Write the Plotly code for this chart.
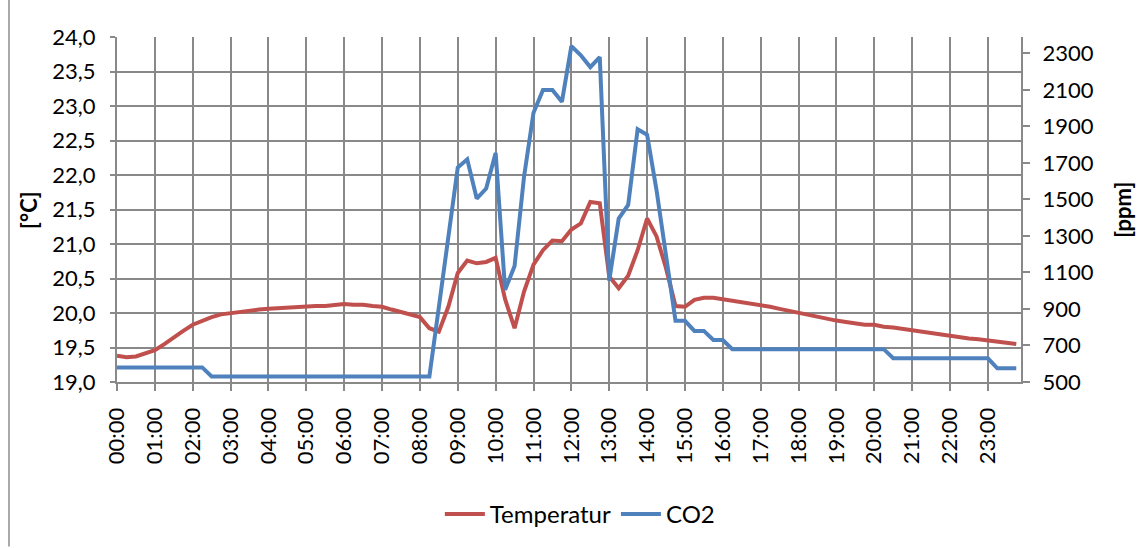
import plotly.graph_objects as go

# 15-minute time slots over one day
slots = list(range(96))
hour_labels = [f"{h:02d}:00" for h in range(24)]
hour_ticks = [h * 4 for h in range(24)]

temperatur = [
    19.38, 19.36, 19.37, 19.41, 19.46, 19.55, 19.65, 19.74, 19.83, 19.89,
    19.94, 19.98, 20.00, 20.02, 20.04, 20.05, 20.06, 20.07, 20.08, 20.09,
    20.10, 20.10, 20.10, 20.12, 20.13, 20.12, 20.12, 20.10, 20.09, 20.05,
    20.01, 19.97, 19.94, 19.78, 19.73, 20.09, 20.58, 20.76, 20.72, 20.74,
    20.80, 20.20, 19.78, 20.31, 20.70, 20.91, 21.05, 21.04, 21.21, 21.30,
    21.61, 21.59, 20.53, 20.36, 20.54, 20.91, 21.37, 21.11, 20.65, 20.10,
    20.09, 20.19, 20.22, 20.22, 20.20, 20.17, 20.16, 20.14, 20.12, 20.09,
    20.06, 20.03, 20.00, 19.97, 19.95, 19.92, 19.89, 19.87, 19.85, 19.83,
    19.83, 19.80, 19.79, 19.77, 19.74, 19.72, 19.70, 19.68, 19.66, 19.64,
    19.63, 19.62, 19.60, 19.58, 19.57, 19.55,
]

co2 = (
    [580] * 10
    + [530] * 24
    + [910, 1290]
    + [1675, 1720, 1505, 1560, 1755, 1005, 1135, 1625, 1975, 2100,
       2100, 2035, 2340, 2290, 2225, 2280, 1055, 1395, 1470, 1885,
       1855, 1550, 1190, 835, 835, 780, 780, 730, 730]
    + [680] * 17
    + [630] * 11
    + [575] * 3
)

temp_ticks = [19.0 + 0.5 * k for k in range(11)]
co2_ticks = list(range(500, 2301, 200))

FONT = "Lato"
FS = 22
GRID = "#898989"
RED = "#C0504D"
BLUE = "#4F81BD"

fig = go.Figure()
fig.add_trace(go.Scatter(
    x=slots, y=temperatur, name="Temperatur", mode="lines",
    line=dict(color=RED, width=4), yaxis="y"))
fig.add_trace(go.Scatter(
    x=slots, y=co2, name="CO2", mode="lines",
    line=dict(color=BLUE, width=4), yaxis="y2"))

fig.update_layout(
    width=1137, height=548,
    margin=dict(l=117, r=116, t=37, b=165),
    paper_bgcolor="white", plot_bgcolor="white",
    separators=",.",
    font=dict(family=FONT, size=FS, color="#000000"),
    showlegend=True,
    legend=dict(orientation="h", x=0.512, y=-0.38, xanchor="center",
                yanchor="middle", font=dict(size=24),
                itemwidth=40, tracegroupgap=0),
    xaxis=dict(
        range=[0, 95.5], tickvals=hour_ticks, ticktext=hour_labels,
        tickangle=-90, showgrid=True, gridcolor=GRID, gridwidth=2,
        showline=True, linecolor=GRID, linewidth=2,
        ticks="outside", ticklen=7, tickcolor=GRID, tickwidth=2,
        ticklabelstandoff=8,
        zeroline=False, tickfont=dict(size=FS)),
    yaxis=dict(
        range=[19, 24], tickvals=temp_ticks, tickformat=".1f",
        showgrid=True, gridcolor=GRID, gridwidth=2,
        showline=True, linecolor=GRID, linewidth=2,
        ticks="outside", ticklen=5, tickcolor=GRID, tickwidth=2,
        ticklabelstandoff=10,
        zeroline=False, tickfont=dict(size=FS)),
    yaxis2=dict(
        range=[500, 2390], tickvals=co2_ticks, overlaying="y", side="right",
        showgrid=False, showline=True, linecolor=GRID, linewidth=2,
        ticks="outside", ticklen=7, tickcolor=GRID, tickwidth=2,
        ticklabelstandoff=8,
        zeroline=False, tickfont=dict(size=FS)),
    annotations=[
        dict(text="<b>[°C]</b>", textangle=-90, xref="paper", yref="paper",
             x=-0.098, y=0.5, showarrow=False, font=dict(size=FS),
             xanchor="center", yanchor="middle"),
        dict(text="<b>[ppm]</b>", textangle=-90, xref="paper", yref="paper",
             x=1.112, y=0.5, showarrow=False, font=dict(size=FS),
             xanchor="center", yanchor="middle"),
    ],
    shapes=[
        dict(type="line", xref="paper", yref="paper",
             x0=-108 / 904, x1=-108 / 904, y0=-165 / 346, y1=37 / 346 + 1,
             line=dict(color="#8c8c8c", width=1.5)),
    ],
)

fig.write_html("out.html")
